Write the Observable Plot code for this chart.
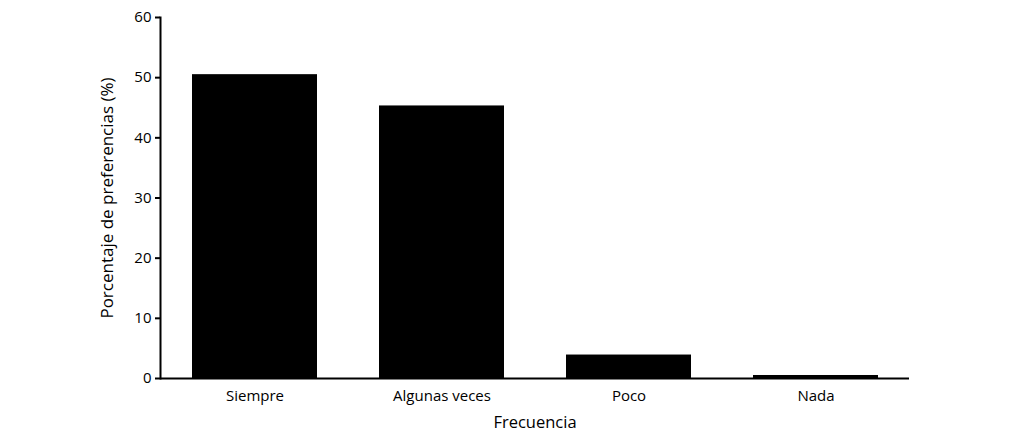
<!DOCTYPE html>
<html>
<head>
<meta charset="utf-8">
<script src="https://cdn.jsdelivr.net/npm/d3@7"></script>
<script src="https://cdn.jsdelivr.net/npm/@observablehq/plot@0.6"></script>
<style>
  html, body { margin: 0; padding: 0; background: #fff; }
  #chart svg { display: block; }
  #chart g[aria-label="y-axis label"] text { font-size: 17px; }
  #chart g[aria-label="x-axis label"] text { font-size: 16.5px; }
</style>
</head>
<body>
<div id="chart"></div>
<script>
const categories = ["Siempre", "Algunas veces", "Poco", "Nada"];
const values = [50.5, 45.3, 3.9, 0.5];
const yTicks = [0, 10, 20, 30, 40, 50, 60];

const data = categories.map((c, i) => ({ cat: c, val: values[i] }));

const chart = Plot.plot({
  width: 1013,
  height: 440,
  marginLeft: 160,
  marginRight: 104,
  marginTop: 17,
  marginBottom: 62,
  style: { fontFamily: "'Open Sans', sans-serif", fontSize: "15px", color: "#000", background: "#fff" },
  x: { domain: categories, paddingInner: 0.333, paddingOuter: 0.167, label: null },
  y: { domain: [0, 60], label: null },
  marks: [
    Plot.barY(data, { x: "cat", y: "val", fill: "#000" }),
    Plot.axisY({ ticks: yTicks, tickSize: 5, tickPadding: 4, strokeWidth: 2, fontSize: 15,
      label: "Porcentaje de preferencias (%)", labelAnchor: "center", labelArrow: "none", labelOffset: 60 }),
    Plot.axisX({ tickSize: 0, tickPadding: 12, fontSize: 15,
      label: "Frecuencia", labelAnchor: "center", labelArrow: "none", labelOffset: 49 }),
    Plot.frame({ anchor: "left", strokeWidth: 2 }),
    Plot.ruleY([0], { strokeWidth: 2 })
  ]
});
document.getElementById("chart").appendChild(chart);
</script>
</body>
</html>
